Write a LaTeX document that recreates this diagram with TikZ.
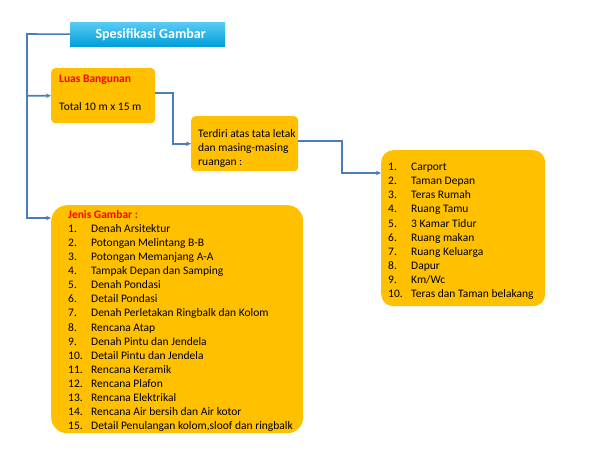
\documentclass[tikz,border=0pt]{standalone}
\usepackage{fontspec}
\setmainfont{Carlito}
\usetikzlibrary{arrows.meta}
\definecolor{kotak}{HTML}{FFC000}
\definecolor{garis}{HTML}{4A7EBB}
\definecolor{biru}{HTML}{00B0F0}
\newcommand{\butir}[2]{\makebox[23pt][l]{#1.}#2}

\begin{document}
\begin{tikzpicture}[x=1pt,y=-1pt]
        \useasboundingbox[fill=white] (0,0) rectangle (600,450);
        \begin{scope}[every node/.style={fill=kotak,anchor=north west,inner sep=0pt}]
            \node[top color=biru!65!white,bottom color=biru!90!black,minimum width=155pt,minimum height=24pt,
                  font=\fontsize{14}{16}\selectfont\bfseries,text=white] (1) at (70,22) {\hspace*{6pt}Spesifikasi Gambar};
            \node[rounded corners=4pt,minimum width=104pt,minimum height=55pt] (2) at (51,68) {};
            \node[rounded corners=4pt,minimum width=107pt,minimum height=55pt] (3) at (191,116) {};
            \node[rounded corners=12pt,minimum width=164pt,minimum height=156pt] (4) at (381,150) {};
            \node[rounded corners=16pt,minimum width=252pt,minimum height=228pt] (5) at (51,205) {};
        \end{scope}
        \begin{scope}[every node/.style={anchor=north west,inner sep=0pt,align=left,
                      font=\fontsize{11.5}{14.1}\selectfont}]
            \node (t2) at (59,75) {\textcolor{red}{\textbf{Luas Bangunan}}\\[14.1pt]Total 10 m x 15 m};
            \node (t3) at (198,129) {Terdiri atas tata letak\\dan masing-masing\\ruangan :};
            \node (t4) at (388,163) {\butir{1}{Carport}\\\butir{2}{Taman Depan}\\\butir{3}{Teras Rumah}\\
                \butir{4}{Ruang Tamu}\\\butir{5}{3 Kamar Tidur}\\\butir{6}{Ruang makan}\\
                \butir{7}{Ruang Keluarga}\\\butir{8}{Dapur}\\\butir{9}{Km/Wc}\\
                \butir{10}{Teras dan Taman belakang}};
            \node (t5) at (68,210) {\textcolor{red}{\textbf{Jenis Gambar :}}\\
                \butir{1}{Denah Arsitektur}\\\butir{2}{Potongan Melintang B-B}\\
                \butir{3}{Potongan Memanjang A-A}\\\butir{4}{Tampak Depan dan Samping}\\
                \butir{5}{Denah Pondasi}\\\butir{6}{Detail Pondasi}\\
                \butir{7}{Denah Perletakan Ringbalk dan Kolom}\\\butir{8}{Rencana Atap}\\
                \butir{9}{Denah Pintu dan Jendela}\\\butir{10}{Detail Pintu dan Jendela}\\
                \butir{11}{Rencana Keramik}\\\butir{12}{Rencana Plafon}\\
                \butir{13}{Rencana Elektrikal}\\\butir{14}{Rencana Air bersih dan Air kotor}\\
                \butir{15}{Detail Penulangan kolom,sloof dan ringbalk}};
        \end{scope}
        \coordinate (c1) at (27,34);
        \coordinate (c2) at (173,93);
        \coordinate (c3) at (342,141);
        \begin{scope}[every path/.style={draw=garis,line width=1.6pt,-{Stealth[length=5pt,width=4.5pt]}}]
            \path (1.west) -- (c1) |- (2.west);
            \path (c1) |- ([yshift=-13pt]5.north west);
            \path (2.east |- c2) -- (c2) |- (3.west);
            \path (3.east |- c3) -- (c3) |- ([yshift=-23pt]4.north west);
        \end{scope}
\end{tikzpicture}
\end{document}
